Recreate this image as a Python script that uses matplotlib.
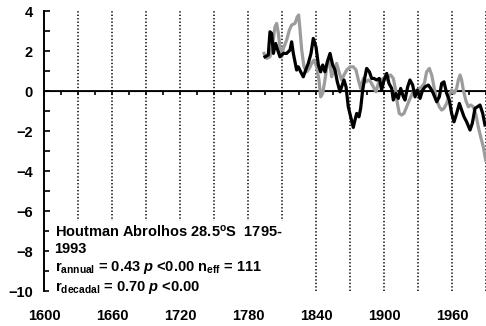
import matplotlib
matplotlib.use('Agg')
import matplotlib.pyplot as plt
import numpy as np

plt.rcParams['font.family'] = ['Liberation Sans', 'DejaVu Sans']
plt.rcParams['font.weight'] = 'bold'
plt.rcParams['mathtext.fontset'] = 'custom'
plt.rcParams['mathtext.rm'] = 'Liberation Sans:bold'
plt.rcParams['mathtext.bf'] = 'Liberation Sans:bold'
plt.rcParams['mathtext.it'] = 'Liberation Sans:bold:italic'
plt.rcParams['mathtext.default'] = 'rm'

# black series (coral record)
black_year = [1795.0, 1797.9, 1799.4, 1800.9, 1802.4, 1804.4, 1806.2, 1808.2, 1811.2, 1814.1,
              1817.1, 1818.5, 1820.0, 1822.9, 1824.4, 1826.5, 1828.8, 1830.9, 1833.2, 1835.6,
              1837.6, 1840.0, 1842.1, 1844.1, 1845.9, 1847.9, 1850.0, 1852.4, 1854.7, 1856.8,
              1858.8, 1861.2, 1862.6, 1864.7, 1866.5, 1868.5, 1870.6, 1872.9, 1874.4, 1875.9,
              1877.9, 1879.4, 1881.2, 1883.2, 1884.7, 1887.1, 1889.1, 1891.2, 1893.5, 1895.9,
              1897.9, 1900.0, 1902.4, 1904.4, 1906.8, 1908.2, 1910.3, 1912.6, 1914.7, 1917.1,
              1918.5, 1920.9, 1922.9, 1925.3, 1927.4, 1929.4, 1931.8, 1934.1, 1936.2, 1939.1,
              1941.2, 1943.5, 1946.5, 1948.8, 1950.9, 1952.9, 1955.3, 1957.6, 1959.7, 1961.8,
              1964.1, 1966.5, 1968.5, 1970.6, 1972.9, 1975.9, 1977.9, 1980.3, 1982.4, 1984.7,
              1987.1, 1989.1]
black_val = [1.73, 1.82, 2.98, 2.90, 1.90, 2.40, 2.07, 1.73, 1.90, 1.90,
             2.07, 2.48, 1.90, 1.07, 1.23, 0.98, 0.73, 1.07, 1.40, 1.90,
             2.65, 2.23, 1.32, 0.98, 1.32, 0.98, 1.48, 1.90, 1.32, 1.07,
             0.48, -0.02, 0.23, 0.57, 0.23, -0.77, -1.27, -1.80, -1.43, -1.10,
             -1.27, -0.85, 0.07, 0.73, 1.15, 0.98, 0.65, 0.65, 0.57, 0.65,
             0.07, 0.57, 0.90, 0.40, 0.15, -0.43, -0.10, -0.35, 0.15, -0.27,
             -0.43, 0.23, 0.57, 0.32, -0.27, 0.07, -0.35, 0.07, 0.23, 0.32,
             0.15, -0.10, -0.52, -0.27, 0.40, 0.48, -0.10, -0.43, -1.10, -1.52,
             -1.10, -0.60, -0.93, -1.27, -1.52, -1.93, -1.60, -0.85, -0.77, -0.68,
             -1.10, -1.68]

# grey series
grey_year = [1794.1, 1796.5, 1799.4, 1801.5, 1803.8, 1805.3, 1806.8, 1808.2, 1809.7, 1811.2,
             1814.1, 1816.5, 1818.5, 1821.5, 1823.5, 1824.7, 1825.9, 1827.4, 1829.4, 1831.8,
             1834.1, 1836.2, 1838.2, 1840.6, 1842.6, 1844.1, 1845.9, 1847.9, 1850.0, 1851.8,
             1853.8, 1855.9, 1858.2, 1860.3, 1862.6, 1864.7, 1867.1, 1870.0, 1872.9, 1875.3,
             1877.4, 1879.4, 1881.8, 1884.1, 1886.2, 1888.2, 1890.6, 1892.9, 1895.0, 1897.1,
             1899.4, 1901.8, 1903.8, 1905.9, 1908.2, 1910.3, 1911.8, 1913.5, 1915.6, 1917.6,
             1920.0, 1922.4, 1924.4, 1926.5, 1928.8, 1931.2, 1933.2, 1935.6, 1937.6, 1940.0,
             1942.1, 1944.1, 1946.5, 1948.8, 1950.9, 1952.9, 1955.3, 1957.6, 1959.7, 1961.8,
             1964.1, 1965.6, 1967.1, 1968.5, 1970.0, 1972.1, 1974.4, 1976.5, 1978.8, 1981.2,
             1983.2, 1985.3, 1987.6, 1989.7]
grey_val = [1.90, 1.65, 1.73, 2.23, 3.23, 3.40, 2.90, 2.23, 1.73, 2.15,
            2.57, 3.07, 3.32, 3.40, 3.73, 3.82, 3.07, 2.07, 1.23, 0.98,
            1.15, 1.40, 1.57, 1.23, 0.57, -0.27, -0.10, 0.57, 1.40, 1.57,
            0.73, 1.07, 1.40, 0.98, 0.57, 0.82, 1.07, 1.23, 1.23, 1.07,
            0.57, 0.15, 0.65, 0.48, 0.57, 0.48, 0.23, -0.02, 0.40, 0.57,
            0.65, 0.57, 0.73, 0.82, 0.65, 0.07, -0.60, -1.10, -1.18, -1.10,
            -0.77, -0.43, -0.18, 0.07, -0.02, 0.15, 0.23, 0.40, 0.98, 1.15,
            0.82, 0.23, -0.43, -0.77, -0.93, -0.85, -0.60, -0.18, 0.07, -0.10,
            0.15, 0.57, 0.82, 0.57, 0.07, -0.43, -0.77, -0.68, -0.77, -1.18,
            -1.77, -2.27, -2.77, -3.43]

grid_years = np.arange(1630, 1991, 30)
xtick_labels = [1600, 1660, 1720, 1780, 1840, 1900, 1960]

fig = plt.figure(figsize=(4.86, 3.26), dpi=100)
ax = fig.add_axes([0.0905, 0.106, 0.9095, 0.859])

ax.set_xlim(1600, 1990)
ax.set_ylim(-10, 4)

for gx in grid_years:
    ax.axvline(gx, color='black', lw=1.1, linestyle=(0, (0.9, 1.35)), zorder=1)
ax.axhline(0, color='black', lw=1.3, zorder=2)

ax.plot(grey_year, grey_val, color='#9c9c9c', lw=2.3, zorder=3)
ax.plot(black_year, black_val, color='black', lw=2.3, zorder=4)

for s in ['top', 'right', 'bottom']:
    ax.spines[s].set_visible(False)
ax.spines['left'].set_linewidth(1.4)

ax.set_yticks(np.arange(-10, 5, 2))
ax.set_yticks(np.arange(-10, 5, 1), minor=True)
ax.tick_params(axis='y', which='both', direction='in', length=4, width=1.2, labelsize=10.5, pad=8)
ax.set_xticks(xtick_labels)
ax.tick_params(axis='x', which='both', length=0, labelsize=10.5, pad=13)
for lab in ax.get_xticklabels() + ax.get_yticklabels():
    lab.set_fontweight('bold')

# ticks along the zero line
zax = ax.secondary_xaxis(10 / 14)
zax.set_xticks(np.arange(1600, 1991, 15))
zax.tick_params(direction='in', length=3, width=1.2, labelbottom=False)
zax.set_xticklabels([])
zax.spines['bottom'].set_visible(False)

label = ("Houtman Abrolhos 28.5$^o$S  1795-\n1993\n"
         "$r_{annual}$ = 0.43 $\\mathit{p}$ <0.00 $n_{eff}$ = 111\n"
         "$r_{decadal}$ = 0.70 $\\mathit{p}$ <0.00")
ax.text(0.024, -0.018, label, transform=ax.transAxes, ha='left', va='bottom',
        fontsize=10.5, fontweight='bold', linespacing=1.25, zorder=5,
        bbox=dict(boxstyle='square,pad=0.35', facecolor='white', edgecolor='none'))

fig.savefig('out.png', dpi=100)
